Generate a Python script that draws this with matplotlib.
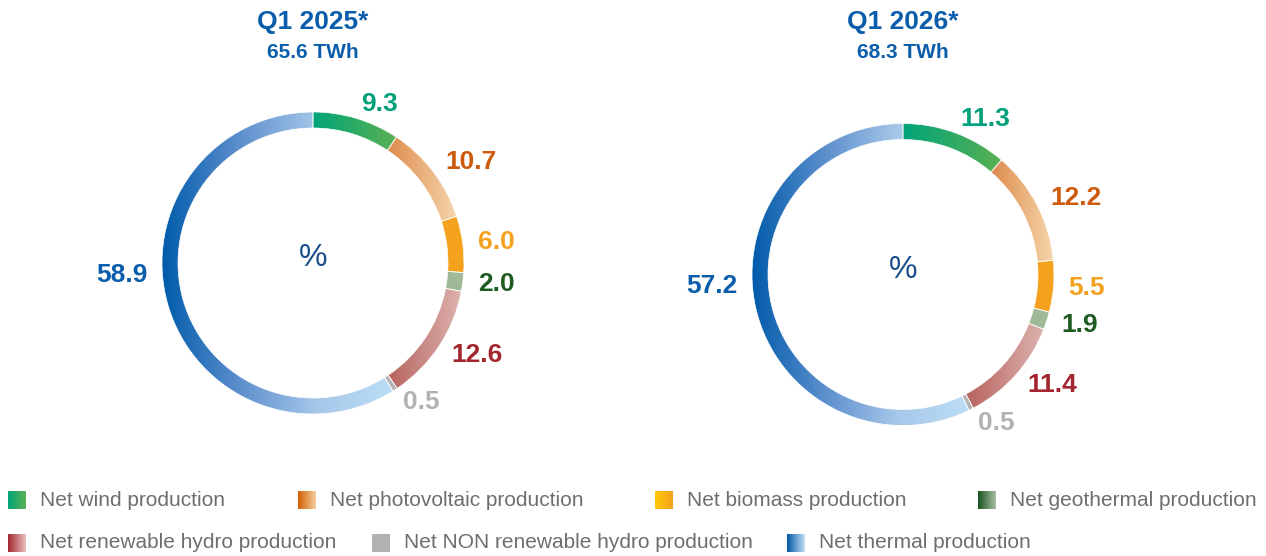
import numpy as np
import matplotlib
matplotlib.use("Agg")
import matplotlib.pyplot as plt
from matplotlib.patches import Wedge
from matplotlib.colors import LinearSegmentedColormap

# data
categories = ["Net wind production", "Net photovoltaic production", "Net biomass production",
              "Net geothermal production", "Net renewable hydro production",
              "Net NON renewable hydro production", "Net thermal production"]
share_2025 = [9.3, 10.7, 6.0, 2.0, 12.6, 0.5, 58.9]
share_2026 = [11.3, 12.2, 5.5, 1.9, 11.4, 0.5, 57.2]
titles = ["Q1 2025*", "Q1 2026*"]
totals = ["65.6 TWh", "68.3 TWh"]

# styles
ring_colors = [
    ["#00A479", "#5BB152"],
    ["#DE8B4C", "#F5D6AC"],
    ["#F4A11E", "#F4A31F"],
    ["#9CB894", "#A2BC9B"],
    ["#B7635F", "#DDB3AE"],
    ["#B4B4B6", "#B4B4B6"],
    ["#005BAA", "#5D8FCD", "#A6C7E9", "#BDDEF5"],
]
legend_colors = [
    ["#00A47A", "#5CB150"],
    ["#D35F00", "#F5CFA0"],
    ["#FFC800", "#F4A11E"],
    ["#1A5320", "#A8BFA5"],
    ["#A3262F", "#EAC0C0"],
    ["#B2B2B4", "#B2B2B4"],
    ["#0055A5", "#C5E0F7"],
]
label_colors = ["#00A07A", "#CC5A0A", "#F4A11E", "#1E5B21", "#A3262F", "#B2B2B4", "#0A5DAA"]
blue = "#0A5DAA"

W, H = 1266, 556
fig = plt.figure(figsize=(W / 100, H / 100), dpi=100)
ax = fig.add_axes([0, 0, 1, 1])
ax.set_xlim(0, W)
ax.set_ylim(0, H)
ax.axis("off")

FONT = "Liberation Sans"
grad = np.linspace(0, 1, 256).reshape(1, -1)


def make_cmap(cols):
    return LinearSegmentedColormap.from_list("g", cols)


def gradient_patch(patch, cols):
    ax.add_patch(patch)
    ext = patch.get_path().transformed(patch.get_patch_transform()).get_extents()
    im = ax.imshow(grad, cmap=make_cmap(cols), aspect="auto", interpolation="bilinear",
                   extent=[ext.x0, ext.x1, ext.y0, ext.y1], zorder=1)
    im.set_clip_path(patch)


def donut(cx, cy, values, title, total):
    R, width = 151, 16
    cy = H - cy
    start = 0.0
    for i, v in enumerate(values):
        t2 = 90 - start * 3.6
        t1 = 90 - (start + v) * 3.6
        w = Wedge((cx, cy), R, t1, t2, width=width, facecolor="none", edgecolor="none")
        gradient_patch(w, ring_colors[i])
        ax.add_patch(Wedge((cx, cy), R, t1, t2, width=width, facecolor="none",
                           edgecolor="white", lw=0.5, zorder=2))
        mid = (t1 + t2) / 2
        if np.cos(np.deg2rad(mid)) < 0:
            mid = 184  # big left segment: label kept near the horizontal
        mid = np.deg2rad(mid)
        rl = R * 1.1
        x = cx + rl * np.cos(mid)
        y = cy + rl * np.sin(mid)
        ha = "left" if np.cos(mid) >= 0 else "right"
        ax.text(x, y, f"{v:.1f}", ha=ha, va="center", fontsize=19, fontweight="bold",
                color=label_colors[i], family=FONT, zorder=3)
        start += v
    ax.text(cx, cy + 5, "%", ha="center", va="center", fontsize=23, color="#1A4E8C", family=FONT)
    ax.text(cx, H - 22, title, ha="center", va="center", fontsize=19, fontweight="bold",
            color=blue, family=FONT)
    ax.text(cx, H - 52, total, ha="center", va="center", fontsize=15, fontweight="bold",
            color=blue, family=FONT)


donut(313, 263, share_2025, titles[0], totals[0])
donut(903, 274.5, share_2026, titles[1], totals[1])

# legend
legend_pos = [(8, 500), (298, 500), (655, 500), (978, 500), (8, 543), (372, 543), (787, 543)]
for (lx, ly), name, cols in zip(legend_pos, categories, legend_colors):
    s = 18
    y = H - ly
    sq = plt.Rectangle((lx, y - s / 2), s, s, facecolor="none", edgecolor="none")
    gradient_patch(sq, cols)
    ax.text(lx + 32, y, name, ha="left", va="center", fontsize=15, color="#6D6E71", family=FONT)

ax.set_xlim(0, W)
ax.set_ylim(0, H)
fig.savefig("out.png", dpi=100)
